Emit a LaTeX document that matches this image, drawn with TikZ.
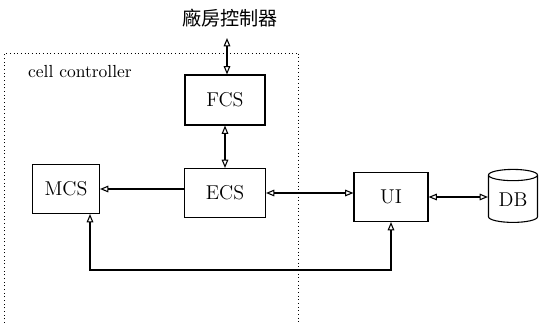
\documentclass[tikz,border=0pt]{standalone}
\usepackage{fontspec}
\newfontfamily\cjk{Noto Sans CJK TC}
\usetikzlibrary{arrows.meta,shapes.geometric}

\tikzset{
  unit/.style={draw, line width=0.65pt, minimum width=#1*0.6pt, minimum height=49*0.6pt, font=\fontsize{12}{14}\selectfont},
  link/.style={line width=0.65pt},
  region/.style={line width=0.6pt, dash pattern=on 0.6pt off 1.6pt}
}

\begin{document}
\begin{tikzpicture}[x=0.6pt, y=-0.6pt, >={Triangle[open,length=5pt,width=4pt]}]

  \useasboundingbox (0,0) rectangle (539,323);

  % Cell controller region
  \draw[region] (5,323) -- (5,53) -- (299,53) -- (299,323);
  \node[font=\fontsize{10.5}{13}\selectfont] (cell) at (80,72) {cell controller};

  % Label on top
  \node[font=\cjk\fontsize{11.5}{13}\selectfont] (plant) at (230,18) {廠房控制器};

  % Units
  \node[unit=80, minimum height=50*0.6pt] (FCS) at (225,100) {FCS};
  \node[unit=81] (ECS) at (225,193) {ECS};
  \node[unit=67] (MCS) at (66,189) {MCS};
  \node[unit=74] (UI) at (391,197) {UI};
  \node[draw, line width=0.65pt, cylinder, shape border rotate=90, aspect=0.35,
        minimum width=49*0.6pt, minimum height=53*0.6pt, inner sep=1pt,
        font=\fontsize{12}{14}\selectfont] (DB) at (513,200) {DB};

  % Connections
  \coordinate (up) at (227,38);
  \coordinate (ret) at (90,270);
  \draw[link,<->] (up) -- (up |- FCS.north);
  \draw[link,<->] (FCS.south) -- (FCS.south |- ECS.north);
  \draw[link,->] (ECS.west |- MCS.east) -- (MCS.east);
  \draw[link,<->] (ECS.east) -- (ECS.east -| UI.west);
  \draw[link,<->] (UI.east) -- (UI.east -| DB.west);
  \draw[link,<->] (ret |- MCS.south) -- (ret) -| (UI.south);

\end{tikzpicture}
\end{document}
